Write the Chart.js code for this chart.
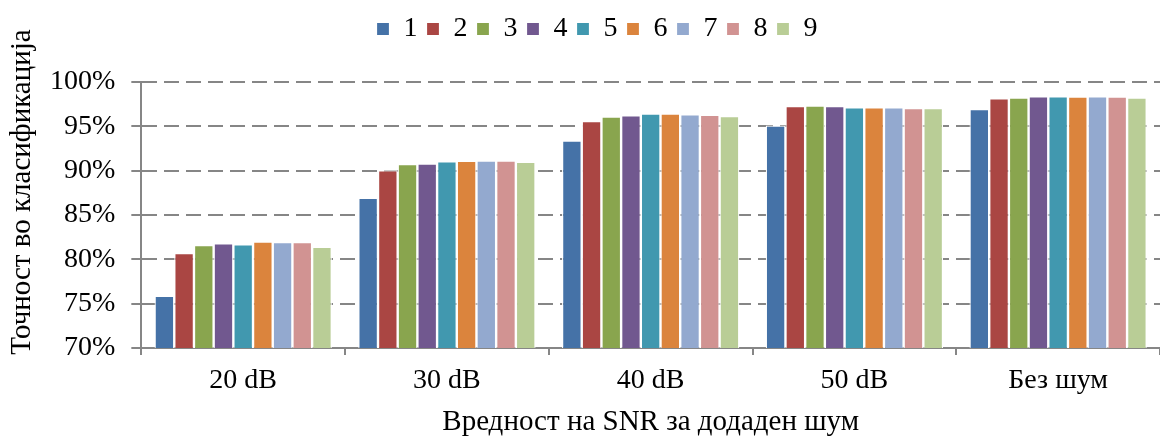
<!DOCTYPE html>
<html>
<head>
<meta charset="utf-8">
<script src="https://cdn.jsdelivr.net/npm/chart.js@4.4.0/dist/chart.umd.min.js"></script>
<style>
  html, body { margin: 0; padding: 0; background: #fff; }
  #wrap { width: 1160px; height: 437px; }
</style>
</head>
<body>
<div id="wrap"><canvas id="chart"></canvas></div>
<script>
const categories = ['20 dB', '30 dB', '40 dB', '50 dB', 'Без шум'];

const series_names = ['1', '2', '3', '4', '5', '6', '7', '8', '9'];

// one array per series, values in % for each category
const s1 = [75.9, 86.95, 93.4, 95.1, 96.95];
const s2 = [80.7, 90.05, 95.6, 97.3, 98.15];
const s3 = [81.6, 90.75, 96.1, 97.35, 98.25];
const s4 = [81.8, 90.8, 96.25, 97.3, 98.4];
const s5 = [81.7, 91.05, 96.45, 97.15, 98.4];
const s6 = [82.0, 91.1, 96.45, 97.15, 98.35];
const s7 = [81.95, 91.15, 96.35, 97.15, 98.4];
const s8 = [81.95, 91.15, 96.3, 97.05, 98.35];
const s9 = [81.4, 91.0, 96.15, 97.05, 98.25];

const y_ticks = [70, 75, 80, 85, 90, 95, 100];

const y_title = 'Точност во класификација';
const x_title = 'Вредност на SNR за додаден шум';

const colors = ['#4572A7', '#AA4643', '#89A54E', '#71588F', '#4198AF',
                '#DB843D', '#93A9CF', '#D19392', '#B9CD96'];

const all_series = [s1, s2, s3, s4, s5, s6, s7, s8, s9];

const font_name = "'Liberation Serif', 'Times New Roman', serif";

function make_dataset(i) {
    return {
        label: series_names[i],
        data: all_series[i],
        backgroundColor: colors[i],
        borderColor: '#ffffff',
        borderWidth: 1.2,
        borderSkipped: 'bottom',
        barPercentage: 1.0,
        categoryPercentage: 0.87
    };
}

const datasets = [];
for (let i = 0; i < series_names.length; i++) {
    datasets.push(make_dataset(i));
}

// legend gets a fixed height so the plot starts where the original one does
const legendHeight = {
    id: 'legendHeight',
    beforeInit(chart) {
        const fit = chart.legend.fit;
        chart.legend.fit = function () {
            fit.bind(chart.legend)();
            this.height = 76;
        };
    }
};

// y title drawn by hand: in the original it sits above the axis centre
const yTitle = {
    id: 'yTitle',
    afterDraw(chart) {
        const ctx = chart.ctx;
        ctx.save();
        ctx.translate(22, 192);
        ctx.rotate(-Math.PI / 2);
        ctx.font = '29px ' + font_name;
        ctx.fillStyle = '#000';
        ctx.textAlign = 'center';
        ctx.textBaseline = 'middle';
        ctx.fillText(y_title, 0, 0);
        ctx.restore();
    }
};

const config = {
    type: 'bar',
    data: { labels: categories, datasets: datasets },
    options: {
        responsive: true,
        maintainAspectRatio: false,
        animation: false,
        layout: { padding: { top: 6, right: 0, bottom: 0, left: 34 } },
        plugins: {
            tooltip: { enabled: false },
            legend: {
                position: 'top',
                labels: {
                    color: '#000',
                    font: { family: font_name, size: 28 },
                    boxWidth: 13,
                    boxHeight: 13,
                    padding: 9
                }
            }
        },
        scales: {
            x: {
                offset: true,
                grid: {
                    offset: true,
                    drawOnChartArea: false,
                    drawTicks: true,
                    tickLength: 7,
                    color: '#868686',
                    lineWidth: 2
                },
                border: { display: true, color: '#868686', width: 2 },
                ticks: {
                    color: '#000',
                    padding: 12,
                    font: { family: font_name, size: 28, lineHeight: 1 }
                },
                title: {
                    display: true,
                    text: x_title,
                    color: '#000',
                    font: { family: font_name, size: 29, lineHeight: 1 },
                    padding: { top: 1, bottom: 0 }
                }
            },
            y: {
                min: 70,
                max: 100,
                afterBuildTicks: (axis) => {
                    axis.ticks = y_ticks.map(v => ({ value: v }));
                },
                grid: {
                    color: (ctx) => ctx.tick && ctx.tick.value === 70 ? 'rgba(0,0,0,0)' : '#868686',
                    lineWidth: 2,
                    drawTicks: true,
                    tickLength: 10,
                    tickColor: '#868686',
                    tickBorderDash: []
                },
                border: { display: true, color: '#868686', width: 2, dash: [15, 7] },
                ticks: {
                    color: '#000',
                    padding: 16,
                    font: { family: font_name, size: 28 },
                    callback: (v) => v + '%'
                },
                title: { display: false }
            }
        }
    },
    plugins: [legendHeight, yTitle]
};

new Chart(document.getElementById('chart'), config);
</script>
</body>
</html>
